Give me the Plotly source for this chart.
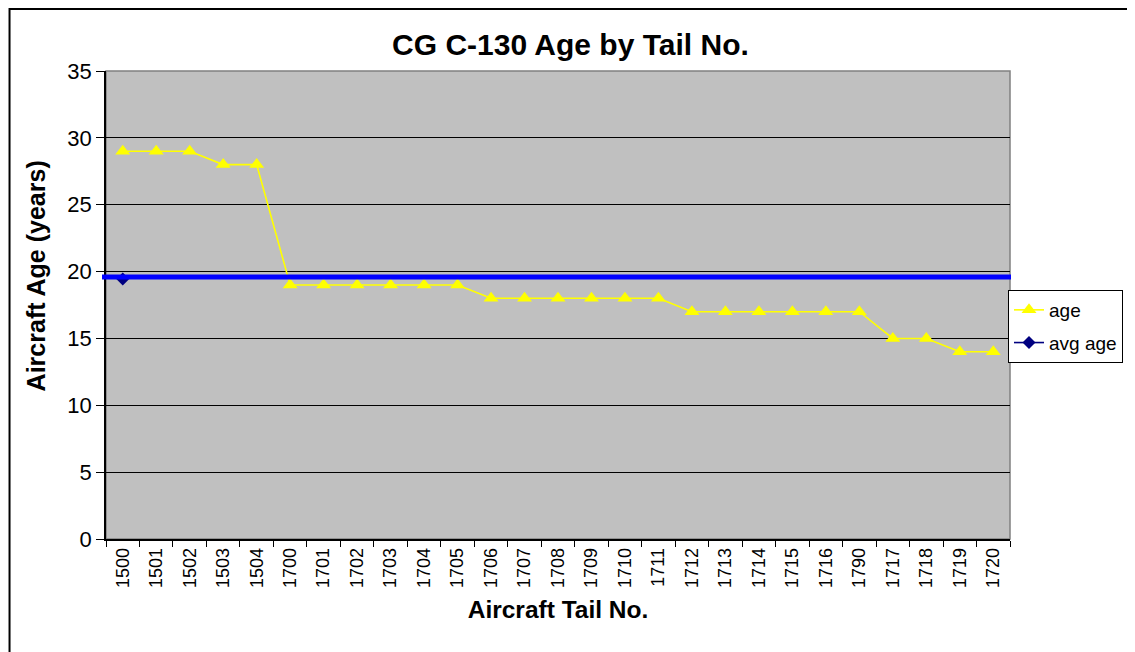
import plotly.graph_objects as go

tail_nos = ["1500", "1501", "1502", "1503", "1504", "1700", "1701", "1702", "1703",
            "1704", "1705", "1706", "1707", "1708", "1709", "1710", "1711", "1712",
            "1713", "1714", "1715", "1716", "1790", "1717", "1718", "1719", "1720"]
ages = [29, 29, 29, 28, 28, 19, 19, 19, 19, 19, 19, 18, 18, 18, 18, 18, 18, 17,
        17, 17, 17, 17, 17, 15, 15, 14, 14]
avg_age_point = [19.44]
avg_line_value = 19.6

OFF = 8  # page body margin
W, H = 1135 - OFF, 652 - OFF
L, T = 106 - OFF, 71 - OFF
pw, ph = 909, 468
R, B = W - L - pw, H - T - ph

def px_x(px):
    return (px - OFF - L) / pw

def px_y(py):
    return (H - B - (py - OFF)) / ph

font = "Liberation Sans, Arial, sans-serif"

fig = go.Figure()
fig.add_trace(go.Scatter(
    x=tail_nos, y=ages, name="age", mode="lines+markers", legendgroup="a",
    line=dict(color="#FFFF00", width=1.6),
    marker=dict(symbol="triangle-up", size=13, color="#FFFF00"),
))
fig.add_trace(go.Scatter(
    x=tail_nos[:1], y=avg_age_point, name="avg age", mode="lines+markers", legendgroup="b",
    line=dict(color="#000080", width=1.6),
    marker=dict(symbol="diamond", size=10, color="#000080"),
))

fig.add_shape(type="line", xref="paper", yref="y",
              x0=px_x(102), x1=px_x(1016), y0=avg_line_value, y1=avg_line_value,
              line=dict(color="#0000FF", width=5), layer="above")
# plot area border
fig.add_shape(type="rect", xref="paper", yref="paper", x0=0, x1=1, y0=0, y1=1,
              line=dict(color="#808080", width=1.5), layer="below")
# outer chart border
fig.add_shape(type="rect", xref="paper", yref="paper",
              x0=px_x(OFF + 1), x1=px_x(1160), y0=px_y(680), y1=px_y(OFF + 1),
              line=dict(color="#000000", width=2))

fig.add_annotation(text="<b>Aircraft Age (years)</b>", textangle=-90,
                   xref="paper", yref="paper", x=px_x(36), y=px_y(276),
                   xanchor="center", yanchor="middle", showarrow=False,
                   font=dict(size=25))

fig.update_layout(
    width=W, height=H,
    margin=dict(l=L, r=R, t=T, b=B),
    paper_bgcolor="white", plot_bgcolor="#C0C0C0",
    font=dict(family=font, color="black"),
    title=dict(text="<b>CG C-130 Age by Tail No.</b>", xref="paper", x=px_x(573),
               xanchor="center", y=1 - (44 - OFF) / H, yanchor="middle",
               font=dict(size=30)),
    xaxis=dict(
        type="category", categoryorder="array", categoryarray=tail_nos,
        tickangle=-90, tickfont=dict(size=18),
        ticks="outside", ticklen=6, tickcolor="black", tickson="boundaries",
        showline=True, linecolor="black", linewidth=1.5, showgrid=False,
        title=dict(text="<b>Aircraft Tail No.</b>", font=dict(size=24.5), standoff=14),
        range=[-0.5, len(tail_nos) - 0.5],
    ),
    yaxis=dict(
        range=[0, 35], dtick=5, tickfont=dict(size=22),
        ticks="outside", ticklen=8, tickcolor="black",
        showline=True, linecolor="black", linewidth=1.5,
        showgrid=True, gridcolor="black", gridwidth=1, zeroline=False,
    ),
    legend=dict(
        x=px_x(1013), y=px_y(290), xanchor="left", yanchor="top",
        bgcolor="white", bordercolor="black", borderwidth=1,
        font=dict(size=19), tracegroupgap=5,
    ),
    showlegend=True,
)

fig.write_html("out.html")
